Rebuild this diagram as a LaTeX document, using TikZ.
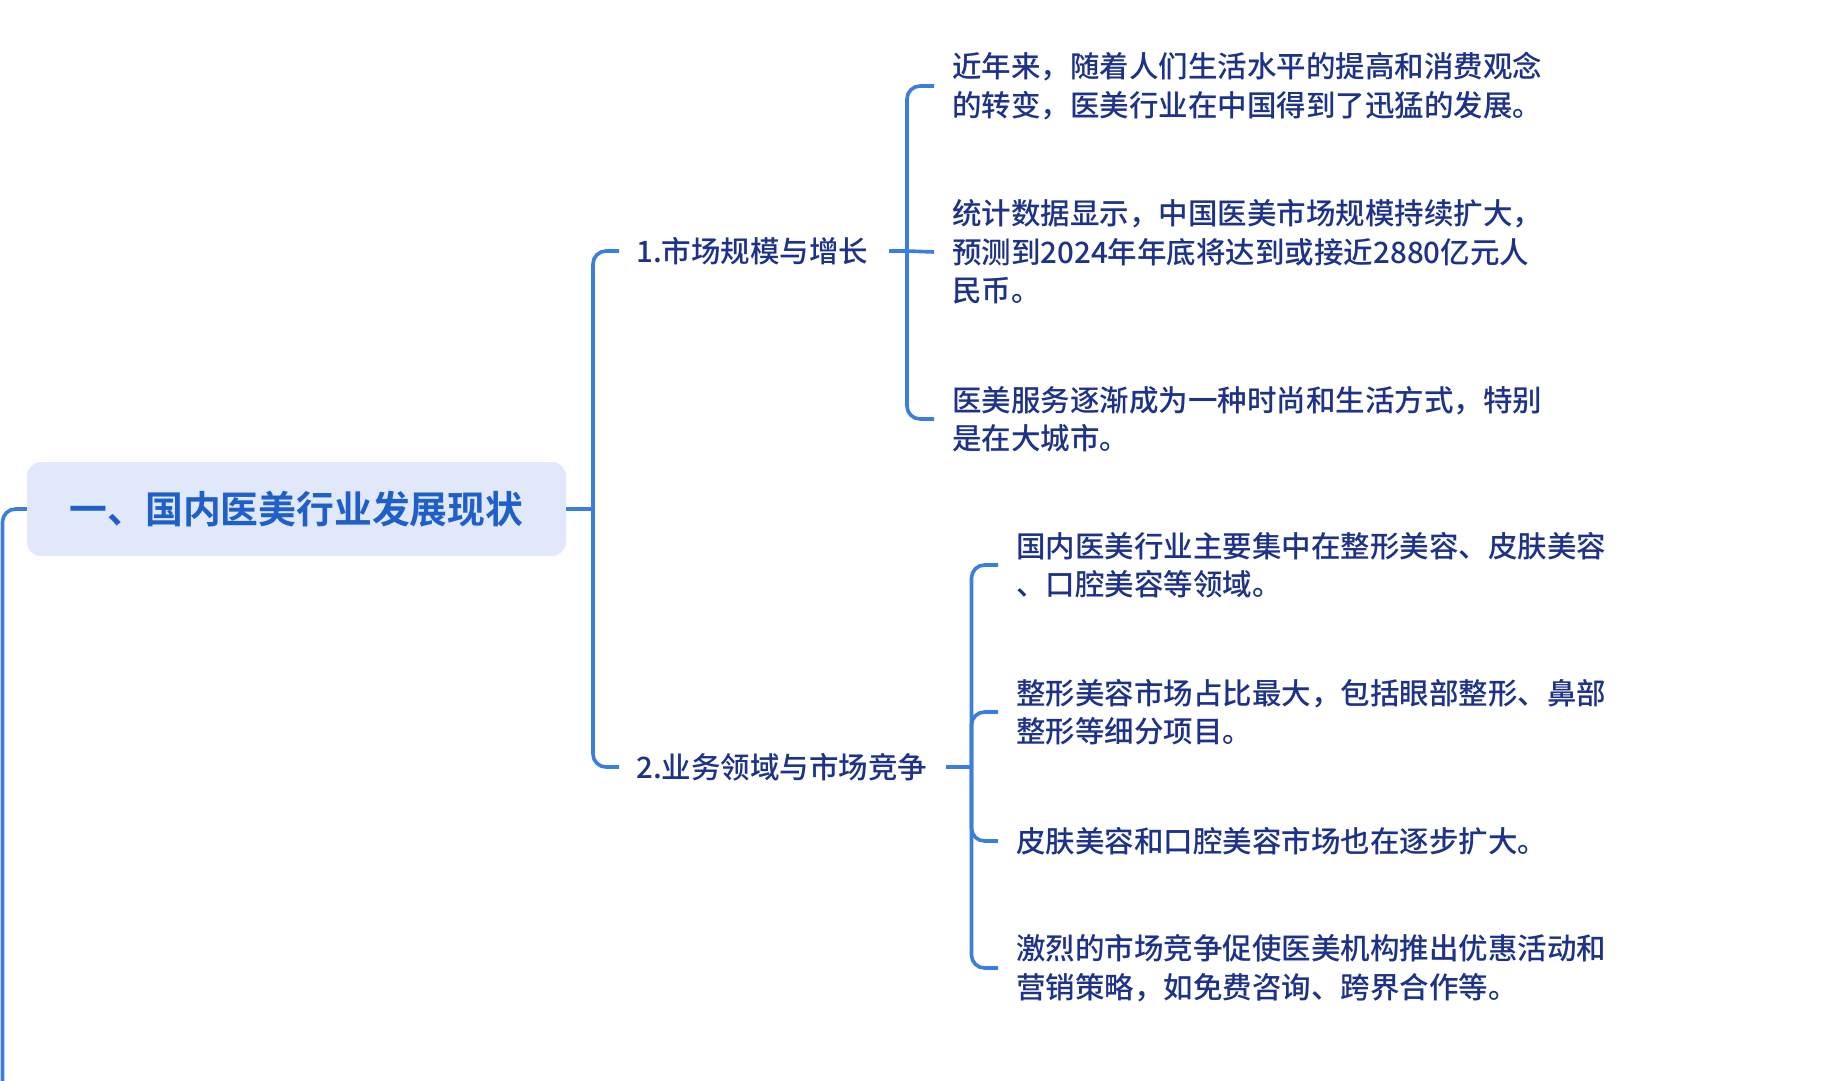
\documentclass[tikz,border=0pt]{standalone}
\usepackage{fontspec}
\setmainfont{Noto Sans CJK SC}[UprightFont=* Medium, BoldFont=* Bold]
\usetikzlibrary{calc}
\definecolor{linec}{HTML}{3C7EDD}
\definecolor{titlefill}{HTML}{E1E8FA}
\definecolor{titletext}{HTML}{1F5FC8}
\definecolor{bodytext}{HTML}{1E3288}
\tikzset{
  conn/.style={draw=linec, line width=3.6pt, rounded corners=13pt},
  rootbox/.style={fill=titlefill, rounded corners=14pt, minimum width=539pt, minimum height=94pt, inner sep=0pt,
     text=titletext, font=\fontsize{37.8}{44}\selectfont\bfseries},
  topic/.style={anchor=west, inner sep=0pt, text=bodytext, font=\fontsize{29.5}{38.5}\selectfont},
  leaf/.style={anchor=west, inner sep=0pt, align=left, text=bodytext, font=\fontsize{29.5}{38.5}\selectfont},
}
\begin{document}
\begin{tikzpicture}[x=1pt,y=-1pt]
\useasboundingbox[fill=white] (0,0) rectangle (1831,1080);

% root
\node[rootbox] (root) at (296.5,509) {一、国内医美行业发展现状};

% level 1
\node[topic] (t1) at (636,251) {1.市场规模与增长};
\node[topic] (t2) at (636,767) {2.业务领域与市场竞争};

% leaves of topic 1
\node[leaf] (a1) at (952,86) {近年来，随着人们生活水平的提高和消费观念\\的转变，医美行业在中国得到了迅猛的发展。};
\node[leaf] (a2) at (952,252) {统计数据显示，中国医美市场规模持续扩大，\\预测到2024年年底将达到或接近2880亿元人\\民币。};
\node[leaf] (a3) at (952,419) {医美服务逐渐成为一种时尚和生活方式，特别\\是在大城市。};

% leaves of topic 2
\node[leaf] (b1) at (1016,565) {国内医美行业主要集中在整形美容、皮肤美容\\、口腔美容等领域。};
\node[leaf] (b2) at (1016,712) {整形美容市场占比最大，包括眼部整形、鼻部\\整形等细分项目。};
\node[leaf] (b3) at (1016,841) {皮肤美容和口腔美容市场也在逐步扩大。};
\node[leaf] (b4) at (1016,968) {激烈的市场竞争促使医美机构推出优惠活动和\\营销策略，如免费咨询、跨界合作等。};

% junction coordinates
\coordinate (jr) at (593,509);
\coordinate (j1) at (907,251);
\coordinate (j2) at (971.5,767);
\coordinate (lend) at (2.5,1095);

% root connectors
\draw[conn] (root.west) -| (lend);
\draw[conn] (root.east) -- (jr);
\draw[conn] (jr) |- ([xshift=-17pt]t1.west);
\draw[conn] (jr) |- ([xshift=-17pt]t2.west);

% topic 1 connectors
\draw[conn] ([xshift=20pt]t1.east) -- (j1);
\draw[conn] (j1) |- ([xshift=-18pt]a1.west);
\draw[conn] (j1) -- ([xshift=-18pt]a2.west);
\draw[conn] (j1) |- ([xshift=-18pt]a3.west);

% topic 2 connectors
\draw[conn] ([xshift=18pt]t2.east) -- (j2);
\draw[conn] (j2) |- ([xshift=-18pt]b1.west);
\draw[conn] (j2) |- ([xshift=-18pt]b2.west);
\draw[conn] (j2) |- ([xshift=-18pt]b3.west);
\draw[conn] (j2) |- ([xshift=-18pt]b4.west);
\end{tikzpicture}
\end{document}
